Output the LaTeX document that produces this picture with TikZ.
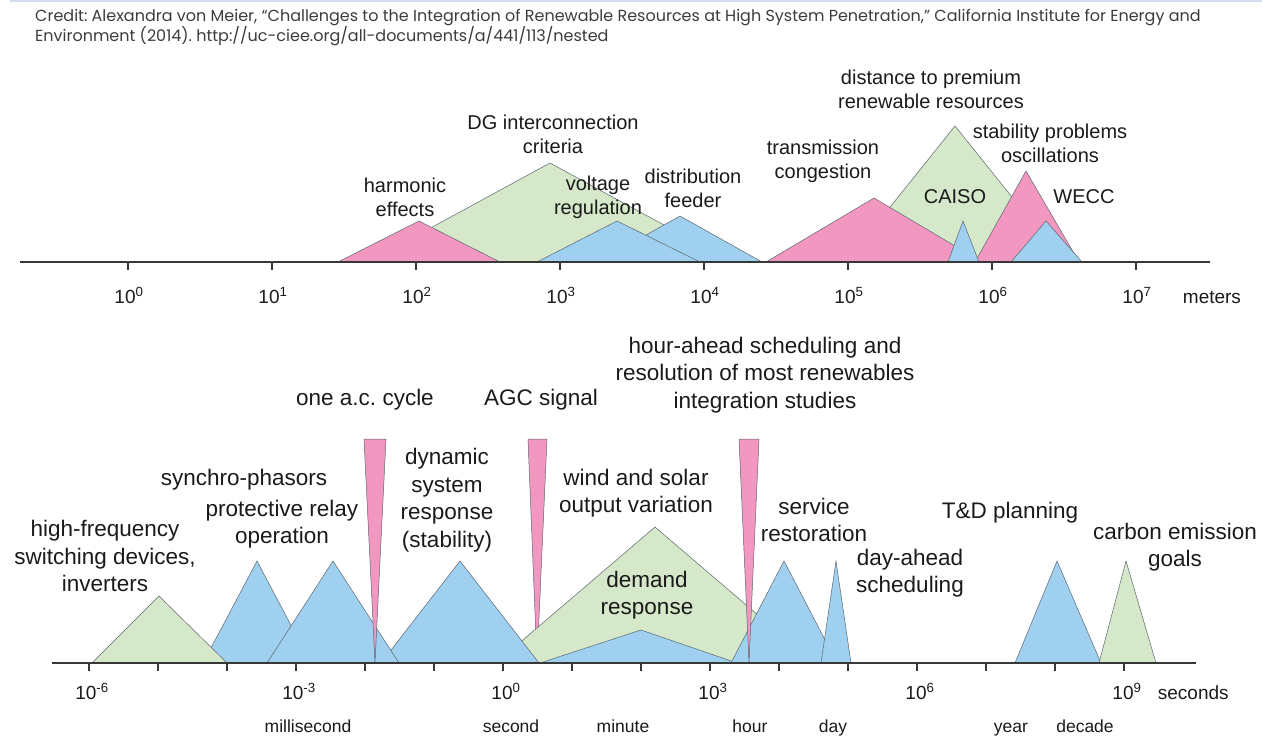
\documentclass[tikz,border=0pt]{standalone}
\usepackage{fontspec}
\setmainfont{Liberation Sans}
\newfontfamily\creditFont{Poppins}
\frenchspacing
\definecolor{pinkColor}{HTML}{F297C0}
\definecolor{blueColor}{HTML}{9FD0EF}
\definecolor{greenColor}{HTML}{D5E8C9}
\definecolor{edgeColor}{HTML}{5C6670}
\definecolor{axisColor}{HTML}{383838}
\definecolor{textColor}{HTML}{1A1A1A}
\definecolor{creditColor}{HTML}{3C3C3C}
\definecolor{ruleColor}{HTML}{D3DCEE}
\usetikzlibrary{positioning}
\tikzset{
    defaultArea/.style = {draw=edgeColor, line width=0.5pt, line join=miter},
    pinkArea/.style = {defaultArea, fill=pinkColor},
    blueArea/.style = {defaultArea, fill=blueColor},
    greenArea/.style = {defaultArea, fill=greenColor},
    defaultLabel/.style = {inner sep=0pt, align=center, text=textColor},
    scaleLabel/.style = {defaultLabel, font=\fontsize{20}{24}\selectfont},
    timeLabel/.style = {defaultLabel, font=\fontsize{22.5}{27.5}\selectfont},
    tickLabel/.style = {defaultLabel, anchor=base, font=\fontsize{19}{22}\selectfont},
    unitLabel/.style = {defaultLabel, anchor=base, font=\fontsize{17.5}{20}\selectfont},
    creditText/.style = {inner sep=0pt, align=left, text=creditColor, font=\creditFont\fontsize{16}{19}\selectfont},
    axisPath/.style = {draw=axisColor, line width=1.4pt},
    tickPath/.style = {draw=axisColor, line width=1.2pt}
}
\begin{document}
\begin{tikzpicture}[x=1pt, y=-1pt]
    \useasboundingbox (0,0) rectangle (1262,736);
    \draw[ruleColor, line width=2.5pt] (10,1) -- (1262,1);
    \node(credit)[creditText, anchor=north west] at (35,9) {Credit: Alexandra von Meier, “Challenges to the Integration of Renewable Resources at High System Penetration,” California Institute for Energy and\\Environment (2014). http://uc-ciee.org/all-documents/a/441/113/nested};

    % length scale
    \path[greenArea] (368,262) -- (550,163) -- (732,262) -- cycle;
    \path[blueArea] (598,262) -- (680,216) -- (762,262) -- cycle;
    \path[blueArea] (537,262) -- (617,221) -- (700,262) -- cycle;
    \path[pinkArea] (338,262) -- (419,221) -- (500,262) -- cycle;
    \path[greenArea] (846,262) -- (955,126) -- (1064,262) -- cycle;
    \path[pinkArea] (766,262) -- (874,198) -- (982,262) -- cycle;
    \path[pinkArea] (975,262) -- (1026,171) -- (1079,262) -- cycle;
    \path[blueArea] (948,262) -- (963,221) -- (979,262) -- cycle;
    \path[blueArea] (1011,262) -- (1046,221) -- (1082,262) -- cycle;
    \draw[axisPath] (20,262) -- (1210,262);
    \foreach \n in {0,...,7} {
        \draw[tickPath] (128+144*\n,262) -- ++(0,8);
        \node(lengthTick\n)[tickLabel] at (129+144*\n,303) {10\textsuperscript{\n}};
    }
    \node(meters)[tickLabel, right=31pt of lengthTick7.base east, anchor=base west] {meters};

    \node(dgLabel)[scaleLabel] at (553,134) {DG interconnection\\criteria};
    \node(harmonicLabel)[scaleLabel] at (405,197) {harmonic\\effects};
    \node(voltageLabel)[scaleLabel] at (598,197) {voltage\\regulation};
    \node(feederLabel)[scaleLabel] at (693,188) {distribution\\feeder};
    \node(transmissionLabel)[scaleLabel] at (823,161) {transmission\\congestion};
    \node(premiumLabel)[scaleLabel] at (931,89) {distance to premium\\renewable resources};
    \node(stabilityLabel)[scaleLabel] at (1050,143) {stability problems\\oscillations};
    \node(caisoLabel)[scaleLabel] at (955,197) {CAISO};
    \node(weccLabel)[scaleLabel] at (1084,197) {WECC};

    % time scale
    \path[pinkArea] (528,439) -- (547,439) -- (537,663) -- cycle;
    \path[greenArea] (496,663) -- (655,527) -- (814,663) -- cycle;
    \path[blueArea] (381,663) -- (460,561) -- (539,663) -- cycle;
    \path[blueArea] (203,663) -- (257,561) -- (311,663) -- cycle;
    \path[greenArea] (92,663) -- (159,596) -- (227,663) -- cycle;
    \path[blueArea] (267,663) -- (333,561) -- (399,663) -- cycle;
    \path[blueArea] (540,663) -- (641,630) -- (737,663) -- cycle;
    \path[blueArea] (731,663) -- (784,561) -- (837,663) -- cycle;
    \path[blueArea] (821,663) -- (836,561) -- (851,663) -- cycle;
    \path[blueArea] (1015,663) -- (1057,561) -- (1101,663) -- cycle;
    \path[greenArea] (1099,663) -- (1126,561) -- (1156,663) -- cycle;
    \path[pinkArea] (364,439) -- (386,439) -- (375,663) -- cycle;
    \path[pinkArea] (739,439) -- (759,439) -- (749,663) -- cycle;
    \draw[axisPath] (52,663) -- (1196,663);
    \foreach \n in {-6,...,9} {
        \draw[tickPath] (503+69*\n,663) -- ++(0,8);
    }
    \foreach \n in {-6,-3,0,3,6,9} {
        \node(timeTick\n)[tickLabel] at (506+69*\n,699) {10\textsuperscript{\n}};
    }
    \node(seconds)[tickLabel, right=16pt of timeTick9.base east, anchor=base west] {seconds};
    \node(millisecond)[unitLabel] at (308,732) {millisecond};
    \node(second)[unitLabel] at (511,732) {second};
    \node(minute)[unitLabel] at (623,732) {minute};
    \node(hour)[unitLabel] at (750,732) {hour};
    \node(day)[unitLabel] at (833,732) {day};
    \node(year)[unitLabel] at (1011,732) {year};
    \node(decade)[unitLabel] at (1085,732) {decade};

    \node(switchingLabel)[timeLabel] at (105,556) {high-frequency\\switching devices,\\inverters};
    \node(phasorLabel)[timeLabel] at (244,480) {synchro-phasors};
    \node(relayLabel)[timeLabel] at (282,524) {protective relay\\operation};
    \node(cycleLabel)[timeLabel] at (365,400) {one a.c. cycle};
    \node(dynamicLabel)[timeLabel] at (447,500) {dynamic\\system\\response\\(stability)};
    \node(agcLabel)[timeLabel] at (541,400) {AGC signal};
    \node(hourAheadLabel)[timeLabel] at (765,375) {hour-ahead scheduling and\\resolution of most renewables\\integration studies};
    \node(windLabel)[timeLabel] at (636,493) {wind and solar\\output variation};
    \node(demandLabel)[timeLabel] at (647,595) {demand\\response};
    \node(serviceLabel)[timeLabel] at (814,520) {service\\restoration};
    \node(dayAheadLabel)[timeLabel] at (910,573) {day-ahead\\scheduling};
    \node(planningLabel)[timeLabel] at (1010,513) {T\&D planning};
    \node(carbonLabel)[timeLabel] at (1175,547) {carbon emission\\goals};
\end{tikzpicture}
\end{document}
